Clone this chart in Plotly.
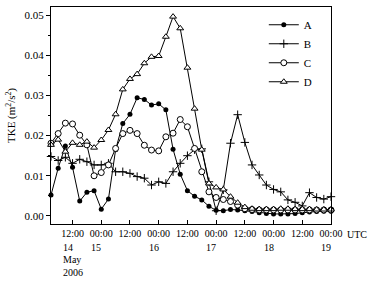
import pandas as pd
import plotly.graph_objects as go

times = pd.date_range("2006-05-14 03:00", "2006-05-19 00:00", freq="3h")

series_A = [0.0052, 0.0119, 0.0174, 0.0121, 0.0037, 0.0059, 0.0063, 0.0017, 0.0042, 0.0165,
            0.0230, 0.0253, 0.0294, 0.0290, 0.0276, 0.0279, 0.0264, 0.0166, 0.0104, 0.0063,
            0.0049, 0.0040, 0.0024, 0.0014, 0.0013, 0.0016, 0.0015, 0.0013, 0.0011, 0.0008,
            0.0006, 0.0005, 0.0005, 0.0005, 0.0006, 0.0008, 0.0010, 0.0011, 0.0012, 0.0012]
series_B = [0.0148, 0.0138, 0.0146, 0.0131, 0.0141, 0.0135, 0.0127, 0.0127, 0.0131, 0.0110,
            0.0110, 0.0106, 0.0098, 0.0094, 0.0077, 0.0085, 0.0081, 0.0110, 0.0131, 0.0150,
            0.0165, 0.0167, 0.0085, 0.0013, 0.0065, 0.0181, 0.0252, 0.0183, 0.0127, 0.0102,
            0.0077, 0.0066, 0.0060, 0.0040, 0.0034, 0.0025, 0.0058, 0.0046, 0.0042, 0.0048]
series_C = [0.0181, 0.0205, 0.0231, 0.0229, 0.0201, 0.0177, 0.0100, 0.0108, 0.0127, 0.0168,
            0.0205, 0.0213, 0.0205, 0.0176, 0.0164, 0.0162, 0.0197, 0.0206, 0.0240, 0.0222,
            0.0168, 0.0110, 0.0060, 0.0046, 0.0041, 0.0036, 0.0027, 0.0018, 0.0016, 0.0015,
            0.0015, 0.0015, 0.0015, 0.0015, 0.0015, 0.0015, 0.0015, 0.0015, 0.0015, 0.0015]
series_D = [0.0177, 0.0190, 0.0160, 0.0182, 0.0177, 0.0185, 0.0170, 0.0189, 0.0214, 0.0253,
            0.0315, 0.0341, 0.0353, 0.0380, 0.0396, 0.0398, 0.0446, 0.0496, 0.0467, 0.0369,
            0.0267, 0.0165, 0.0081, 0.0071, 0.0066, 0.0048, 0.0033, 0.0022, 0.0018, 0.0017,
            0.0017, 0.0017, 0.0018, 0.0018, 0.0017, 0.0017, 0.0017, 0.0016, 0.0016, 0.0016]

tick_times = pd.date_range("2006-05-14 12:00", "2006-05-19 00:00", freq="12h")
tick_labels = ["12:00", "00:00"] * 5
date_labels = [("2006-05-14 12:00", "14"), ("2006-05-15 00:00", "15"),
               ("2006-05-16 00:00", "16"), ("2006-05-17 00:00", "17"),
               ("2006-05-18 00:00", "18"), ("2006-05-19 00:00", "19")]

FONT = "Liberation Serif"

fig = go.Figure()
styles = {
    "A": dict(symbol="circle", size=5, color="black", line=dict(width=0)),
    "B": dict(symbol="cross-thin", size=6, color="black", line=dict(width=1, color="black")),
    "C": dict(symbol="circle", size=6, color="white", line=dict(width=1, color="black")),
    "D": dict(symbol="triangle-up", size=6, color="white", line=dict(width=1, color="black")),
}
for name, vals in [("A", series_A), ("B", series_B), ("C", series_C), ("D", series_D)]:
    fig.add_trace(go.Scatter(
        x=times, y=vals, name=name, mode="lines+markers",
        line=dict(color="black", width=1),
        marker=styles[name], cliponaxis=False,
    ))

fig.update_layout(
    width=374, height=284,
    margin=dict(l=51, r=43, t=7, b=60),
    paper_bgcolor="white", plot_bgcolor="white",
    font=dict(family=FONT, size=11, color="black"),
    showlegend=True,
    legend=dict(x=0.76, y=0.985, xanchor="left", yanchor="top",
                bgcolor="rgba(0,0,0,0)", font=dict(size=11), tracegroupgap=0,
                itemwidth=30),
    xaxis=dict(
        range=[times[0], times[-1]],
        tickvals=list(tick_times), ticktext=tick_labels,
        ticks="inside", ticklen=4, tickcolor="black",
        showline=True, linecolor="black", linewidth=1, mirror=True,
        showgrid=False, zeroline=False, tickfont=dict(size=10),
    ),
    yaxis=dict(
        range=[-0.002, 0.052], dtick=0.01, tick0=0, tickformat=".2f",
        ticks="outside", ticklen=4, tickcolor="black",
        minor=dict(dtick=0.005, tick0=0, ticks="outside", ticklen=2, tickcolor="black"),
        showline=True, linecolor="black", linewidth=1, mirror=True,
        showgrid=False, zeroline=False, tickfont=dict(size=11),
        title=dict(text="TKE (m<sup>2</sup>/s<sup>2</sup>)", font=dict(size=11), standoff=6),
    ),
)

annotations = []
for t, lab in date_labels:
    annotations.append(dict(x=t, y=0, xref="x", yref="paper", text=lab, showarrow=False,
                            xanchor="left", yanchor="middle", xshift=-12, yshift=-23.5,
                            font=dict(size=10)))
annotations.append(dict(x="2006-05-14 12:00", y=0, xref="x", yref="paper", text="May",
                        showarrow=False, xanchor="left", yanchor="middle", xshift=-12,
                        yshift=-35.5, font=dict(size=10)))
annotations.append(dict(x="2006-05-14 12:00", y=0, xref="x", yref="paper", text="2006",
                        showarrow=False, xanchor="left", yanchor="middle", xshift=-12,
                        yshift=-48, font=dict(size=10)))
annotations.append(dict(x=1, y=0, xref="paper", yref="paper", text="UTC", showarrow=False,
                        xanchor="left", yanchor="middle", xshift=14, yshift=-10,
                        font=dict(size=10)))
fig.update_layout(annotations=annotations)

fig.write_html(
    "out.html",
    config={"displayModeBar": False},
    post_script="document.body.style.margin='0px';document.body.style.padding='0px';",
)
